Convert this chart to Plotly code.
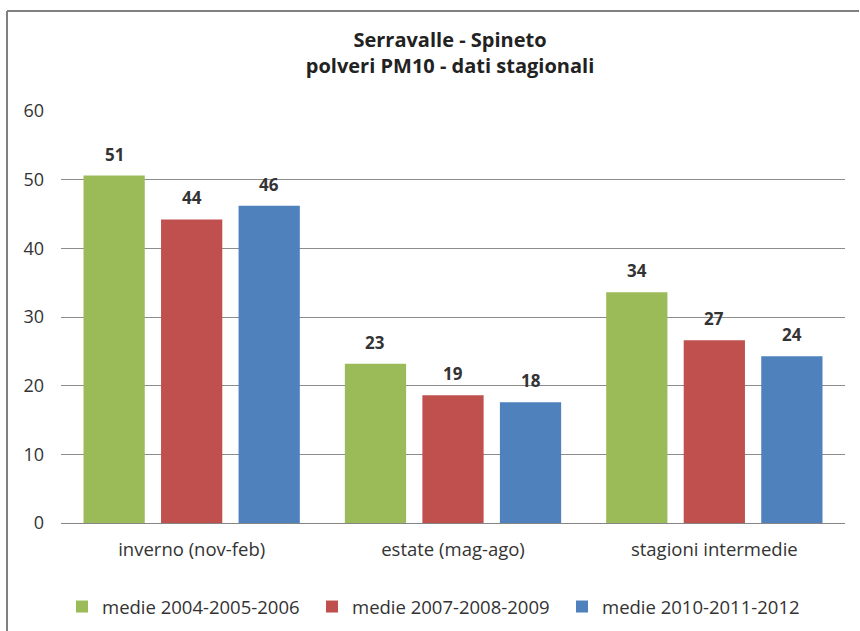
import plotly.graph_objects as go

categories = ["inverno (nov-feb)", "estate (mag-ago)", "stagioni intermedie"]
series_names = ["medie 2004-2005-2006", "medie 2007-2008-2009", "medie 2010-2011-2012"]
vals_2004_2006 = [50.6, 23.2, 33.6]
vals_2007_2009 = [44.2, 18.6, 26.6]
vals_2010_2012 = [46.2, 17.6, 24.3]
colors = ["#9BBB59", "#C0504D", "#4F81BD"]
y_ticks = [0, 10, 20, 30, 40, 50, 60]

FONT = "Open Sans, sans-serif"
series = [vals_2004_2006, vals_2007_2009, vals_2010_2012]
xpos = list(range(len(categories)))

bargap = 0.11
bargroupgap = 0.21

fig = go.Figure()
for name, vals, col in zip(series_names, series, colors):
    fig.add_trace(go.Bar(
        x=xpos, y=vals, name=name,
        marker=dict(color=col, line=dict(width=0)),
    ))

# data labels above bars
slot = (1 - bargap) / len(series)
annotations = []
for i, vals in enumerate(series):
    off = (i - (len(series) - 1) / 2) * slot
    for xi, v in zip(xpos, vals):
        annotations.append(dict(
            x=xi + off, y=v, xref="x", yref="y",
            text=f"<b>{round(v)}</b>", showarrow=False,
            yanchor="bottom", yshift=8,
            font=dict(family=FONT, size=17, color="#333333"),
        ))

fig.update_layout(
    width=860, height=631,
    margin=dict(l=61, r=15, t=111, b=108),
    paper_bgcolor="white", plot_bgcolor="white",
    barmode="group", bargap=bargap, bargroupgap=bargroupgap,
    font=dict(family=FONT, size=18, color="#333333"),
    title=dict(
        text="<b>Serravalle - Spineto<br>polveri PM10 - dati stagionali</b>",
        x=450 / 860, xanchor="center", xref="container",
        y=1 - 47 / 631, yanchor="top", yref="container",
        font=dict(family=FONT, size=20, color="#222222"),
    ),
    xaxis=dict(
        tickmode="array", tickvals=xpos, ticktext=categories,
        range=[-0.5, len(categories) - 0.5],
        showgrid=False, showline=True, linecolor="#868686", linewidth=1,
        ticks="", tickfont=dict(family=FONT, size=18.5, color="#333333"),
        ticklabelstandoff=10,
    ),
    yaxis=dict(
        range=[0, 60], tickvals=y_ticks,
        showgrid=True, gridcolor="#8c8c8c", gridwidth=1,
        zeroline=True, zerolinecolor="#868686", zerolinewidth=1,
        showline=False, ticks="",
        tickfont=dict(family=FONT, size=18, color="#333333"),
        ticklabelstandoff=16,
    ),
    legend=dict(
        orientation="h", x=62 / 860, xanchor="left", xref="container",
        y=1 - 607 / 631, yanchor="middle", yref="container",
        font=dict(family=FONT, size=18.5, color="#333333"),
        itemwidth=30, entrywidth=205, traceorder="normal",
    ),
    annotations=annotations,
    shapes=[
        dict(type="line", xref="paper", yref="paper",
             x0=(7 - 61) / 784, x1=(859 - 61) / 784,
             y0=1 + (111 - 11) / 412, y1=1 + (111 - 11) / 412,
             line=dict(color="#808080", width=2)),
        dict(type="line", xref="paper", yref="paper",
             x0=(7 - 61) / 784, x1=(7 - 61) / 784,
             y0=1 + (111 - 11) / 412, y1=-(108 - 0) / 412,
             line=dict(color="#808080", width=2)),
    ],
)

fig.write_html("out.html")
